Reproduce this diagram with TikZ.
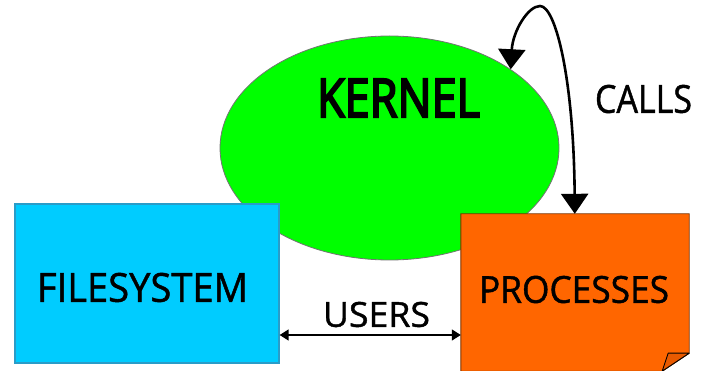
\documentclass[tikz,border=0pt]{standalone}
\usepackage{fontspec}
\usepackage{graphicx}
\setmainfont[FakeBold=1.2]{Open Sans}
\newfontfamily\kernelfont[FakeBold=4]{Open Sans}
\usetikzlibrary{shapes.geometric,arrows.meta,calc}

% fit a capital-letter label into a given width and cap height
\newcommand\fitcaps[3]{\resizebox{#1}{#2}{#3}}

\definecolor{kernelgreen}{HTML}{00FF00}
\definecolor{fsblue}{HTML}{00CCFF}
\definecolor{fsedge}{HTML}{2A9CC8}
\definecolor{procorange}{HTML}{FF6600}
\definecolor{procedge}{HTML}{7A3300}
\definecolor{folddark}{HTML}{E85A00}

\tikzset{
  capslabel/.style={inner sep=0pt, text=black},
  bigarrow/.style={line width=2.6pt, {Triangle[width=27pt,length=20pt]}-{Triangle[width=27pt,length=20pt]}},
  smallarrow/.style={line width=1.4pt, {Triangle[width=11pt,length=9pt]}-{Triangle[width=11pt,length=9pt]}},
}

\begin{document}
\begin{tikzpicture}[x=1pt,y=1pt]
\useasboundingbox (0,0) rectangle (707,-371);

% kernel ellipse, behind the two boxes
\node (kernel) [ellipse, draw=black!55, line width=0.8pt, fill=kernelgreen,
  minimum width=339pt, minimum height=224pt, inner sep=0pt] at (389.5,-148) {};
\node (kerneltext) [capslabel] at (398.5,-98) {\fitcaps{163pt}{38pt}{\kernelfont KERNEL}};

% filesystem box
\node (fs) [draw=fsedge, line width=1.3pt, fill=fsblue,
  minimum width=264pt, minimum height=159pt, inner sep=0pt] at (147,-283.5) {};
\node (fstext) [capslabel] at (142.5,-287.5) {\fitcaps{211pt}{29pt}{FILESYSTEM}};

% processes sheet with a curled bottom-right corner
\node (proc) [minimum width=228pt, minimum height=157pt, inner sep=0pt] at (575,-292.5) {};
\fill[black!25] ([yshift=18pt]proc.south east) -- ([xshift=-27pt]proc.south east)
  -- ([xshift=-24pt,yshift=2pt]proc.south east) -- cycle;
\filldraw[fill=procorange, draw=procedge, line width=0.9pt]
  (proc.north west) -- (proc.north east) -- ([yshift=18pt]proc.south east)
  -- ([xshift=-27pt]proc.south east) -- (proc.south west) -- cycle;
\filldraw[fill=folddark, draw=black, line width=0.9pt, line join=round]
  ([xshift=-27pt]proc.south east) -- ([xshift=-21pt,yshift=18pt]proc.south east)
  -- ([yshift=18pt]proc.south east) -- cycle;
\node (proctext) [capslabel] at (574,-289.5) {\fitcaps{190pt}{27pt}{PROCESSES}};

% system calls between kernel and processes
\draw[bigarrow] (kernel.33.6)
  .. controls +(2,38) and +(-12,0) .. (540,-6)
  .. controls +(16,0) and +(-1,133) .. ([xshift=114pt]proc.north west);
\node (callstext) [capslabel] at (643.5,-99) {\fitcaps{97pt}{28pt}{CALLS}};

% users link between filesystem and processes
\draw[smallarrow] ([yshift=-51.5pt]fs.east) -- ([yshift=-42.5pt]proc.west);
\node (userstext) [capslabel] at (376.5,-314.5) {\fitcaps{107pt}{25pt}{USERS}};
\end{tikzpicture}
\end{document}
